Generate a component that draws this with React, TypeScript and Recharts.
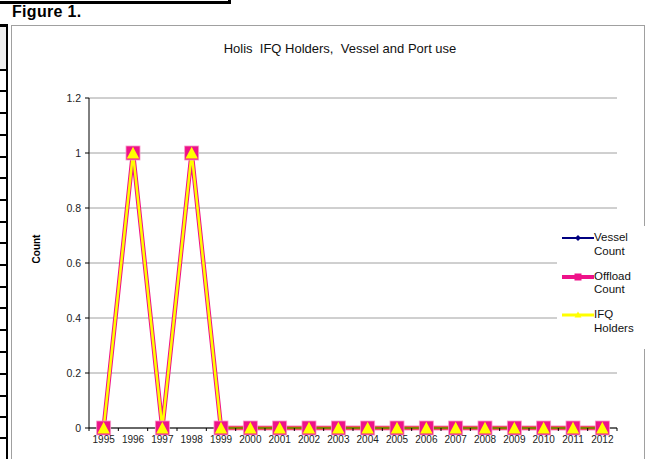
import React from 'react';
import { LineChart, Line, XAxis, YAxis, CartesianGrid, Legend } from 'recharts';

const years = ['1995', '1996', '1997', '1998', '1999', '2000', '2001', '2002', '2003', '2004', '2005', '2006', '2007', '2008', '2009', '2010', '2011', '2012'];
const vesselCount = [0, 1, 0, 1, 0, 0, 0, 0, 0, 0, 0, 0, 0, 0, 0, 0, 0, 0];
const offloadCount = [0, 1, 0, 1, 0, 0, 0, 0, 0, 0, 0, 0, 0, 0, 0, 0, 0, 0];
const ifqHolders = [0, 1, 0, 1, 0, 0, 0, 0, 0, 0, 0, 0, 0, 0, 0, 0, 0, 0];
const yTicks = [0, 0.2, 0.4, 0.6, 0.8, 1, 1.2];
const seriesNames = ['Vessel Count', 'Offload Count', 'IFQ Holders'];
const chartTitle = 'Holis  IFQ Holders,  Vessel and Port use';
const figureLabel = 'Figure 1.';
const yAxisTitle = 'Count';

const data = years.map((y, i) => ({
  year: y,
  vessel: vesselCount[i],
  offload: offloadCount[i],
  ifq: ifqHolders[i],
}));

const FONT = '"Liberation Sans", Arial, Helvetica, sans-serif';
const NAVY = '#000080';
const PINK = '#EE1289';
const YELLOW = '#FFFF00';

const DiamondDot = (p: any) => {
  const { cx, cy, index } = p;
  if (cx == null || cy == null) return <g key={`d${index}`} />;
  return <polygon key={`d${index}`} points={`${cx},${cy - 4} ${cx + 4},${cy} ${cx},${cy + 4} ${cx - 4},${cy}`} fill={NAVY} />;
};
const SquareDot = (p: any) => {
  const { cx, cy, index } = p;
  if (cx == null || cy == null) return <g key={`s${index}`} />;
  return <rect key={`s${index}`} x={cx - 7} y={cy - 7} width={14} height={14} fill={PINK} stroke="#F79AC8" strokeWidth={0.8} />;
};
const TriangleDot = (p: any) => {
  const { cx, cy, index } = p;
  if (cx == null || cy == null) return <g key={`t${index}`} />;
  return <polygon key={`t${index}`} points={`${cx},${cy - 6.3} ${cx + 6.2},${cy + 5.6} ${cx - 6.2},${cy + 5.6}`} fill={YELLOW} />;
};

const XTick = (props: any) => {
  const { x, y, payload, index } = props;
  const half = payload && payload.offset ? payload.offset : 14.67;
  const axisY = y - 8;
  const isLast = index === years.length - 1;
  return (
    <g>
      <line x1={x - half} x2={x - half} y1={axisY} y2={axisY + 3} stroke="#000" strokeWidth={1} />
      {isLast && <line x1={x + half} x2={x + half} y1={axisY} y2={axisY + 3} stroke="#000" strokeWidth={1} />}
      <text x={x} y={y} dy="0.71em" textAnchor="middle" fontSize={10} fontFamily={FONT} fill="#222">
        {payload.value}
      </text>
    </g>
  );
};

const YTick = (props: any) => {
  const { x, y, payload } = props;
  return (
    <text x={x} y={y} dy="0.355em" textAnchor="end" fontSize={10.5} fontFamily={FONT} fill="#222">
      {payload.value}
    </text>
  );
};

const legendItems = [
  { name: seriesNames[0], color: NAVY, width: 2, marker: 'diamond' },
  { name: seriesNames[1], color: PINK, width: 4, marker: 'square' },
  { name: seriesNames[2], color: YELLOW, width: 3, marker: 'triangle' },
];

const renderLegend = () => (
  <div style={{ background: '#fff', paddingTop: 5, width: 88, height: 118, fontFamily: FONT }}>
    {legendItems.map((it) => {
      const words = it.name.split(' ');
      return (
        <div key={it.name} style={{ display: 'flex', alignItems: 'flex-start', height: 38.7 }}>
          <svg width={37} height={14} style={{ display: 'block', flex: 'none' }}>
            <line x1={5} x2={37} y1={7} y2={7} stroke={it.color} strokeWidth={it.width} />
            {it.marker === 'diamond' && <polygon points="21,4 24,7 21,10 18,7" fill={it.color} />}
            {it.marker === 'square' && <rect x={17.5} y={3.5} width={7} height={7} fill={it.color} />}
            {it.marker === 'triangle' && <polygon points="21,3.5 24.5,9.5 17.5,9.5" fill={it.color} />}
          </svg>
          <div style={{ fontSize: 11.5, lineHeight: '13.5px', color: '#111', marginTop: 0 }}>
            {words.map((w) => (
              <div key={w}>{w}</div>
            ))}
          </div>
        </div>
      );
    })}
  </div>
);

const leftTicks = [91, 113, 135, 156.5, 178, 200, 221.5, 243, 265, 286.5, 308, 330, 352, 373.5, 395.5, 417, 438];

export default function App() {
  return (
    <div style={{ position: 'absolute', left: 0, top: 0, width: 649, height: 459, overflow: 'hidden', background: '#fff' }}>
      {/* top box fragment */}
      <div style={{ position: 'absolute', left: 0, top: 1, width: 231, height: 3, background: '#000' }} />
      <div style={{ position: 'absolute', left: 228, top: 0, width: 3, height: 4, background: '#000' }} />
      {/* left ruler */}
      <div style={{ position: 'absolute', left: 0, top: 26, width: 6, height: 43, background: '#EFEFEF' }} />
      <div style={{ position: 'absolute', left: 0, top: 24, width: 8, height: 2.5, background: '#000' }} />
      <div style={{ position: 'absolute', left: 6, top: 24, width: 2.2, height: 440, background: '#000' }} />
      <div style={{ position: 'absolute', left: 0, top: 69, width: 8, height: 2, background: '#000' }} />
      {leftTicks.map((t) => (
        <div key={t} style={{ position: 'absolute', left: 0, top: t - 1, width: 7, height: 2, background: '#000' }} />
      ))}
      {/* figure label */}
      <div style={{ position: 'absolute', left: 12, top: 4, fontFamily: FONT, fontWeight: 'bold', fontSize: 16, lineHeight: '16px', letterSpacing: 0.3, color: '#000', whiteSpace: 'nowrap' }}>
        {figureLabel}
      </div>
      {/* chart frame */}
      <div style={{ position: 'absolute', left: 11, top: 25, width: 634, height: 450, border: '1px solid #A0A0A0', boxSizing: 'border-box' }} />
      {/* title */}
      <div style={{ position: 'absolute', left: 0, width: 680, top: 42, textAlign: 'center', fontFamily: FONT, fontSize: 13, lineHeight: '13px', color: '#111', whiteSpace: 'pre' }}>
        {chartTitle}
      </div>
      {/* y axis title */}
      <div style={{ position: 'absolute', left: 37, top: 249, transform: 'translate(-50%, -50%) rotate(-90deg)', fontFamily: FONT, fontWeight: 'bold', fontSize: 10, lineHeight: '10px', color: '#000', whiteSpace: 'nowrap' }}>
        {yAxisTitle}
      </div>
      <div style={{ position: 'absolute', left: 0, top: 0 }}>
        <LineChart width={649} height={459} data={data} margin={{ top: 98, right: 32, bottom: 1, left: 49 }}>
          <CartesianGrid vertical={false} stroke="#A0A0A0" strokeWidth={1} />
          <XAxis
            dataKey="year"
            scale="band"
            interval={0}
            height={30}
            tickLine={false}
            tickSize={0}
            tickMargin={8}
            axisLine={{ stroke: '#000', strokeWidth: 1 }}
            tick={<XTick />}
          />
          <YAxis
            domain={[0, 1.2]}
            ticks={yTicks}
            width={40}
            tickSize={4}
            tickMargin={4}
            axisLine={{ stroke: '#000', strokeWidth: 1 }}
            tickLine={{ stroke: '#000', strokeWidth: 1 }}
            tick={<YTick />}
            interval={0}
          />
          <Legend
            layout="vertical"
            align="center"
            verticalAlign="middle"
            content={renderLegend}
            wrapperStyle={{ position: 'absolute', left: 557, top: 226, width: 88, height: 118 }}
          />
          <Line type="linear" dataKey="vessel" name={seriesNames[0]} stroke={NAVY} strokeWidth={2} dot={<DiamondDot />} isAnimationActive={false} />
          <Line type="linear" dataKey="offload" name={seriesNames[1]} stroke={PINK} strokeWidth={4.5} dot={<SquareDot />} isAnimationActive={false} />
          <Line type="linear" dataKey="ifq" name={seriesNames[2]} stroke={YELLOW} strokeWidth={2.5} dot={<TriangleDot />} isAnimationActive={false} />
        </LineChart>
      </div>
    </div>
  );
}
